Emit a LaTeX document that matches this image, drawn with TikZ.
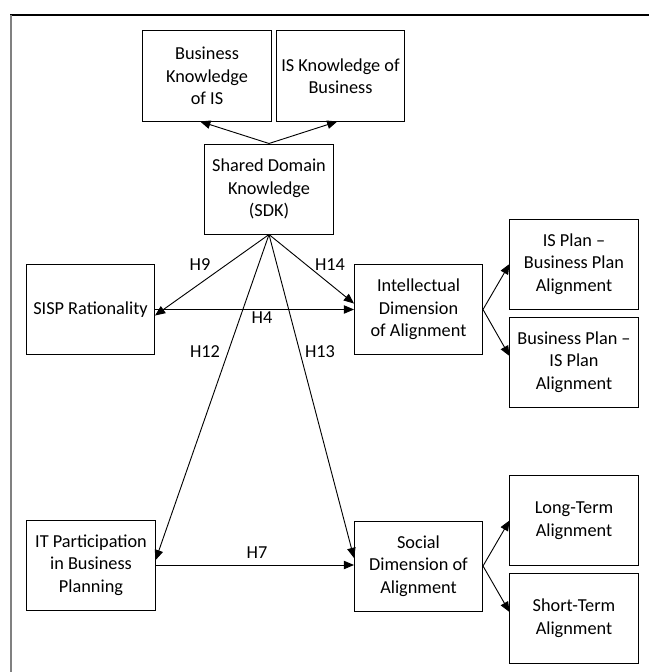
\documentclass[tikz,border=0pt]{standalone}
\usepackage{fontspec}
\setmainfont{Carlito}
\usetikzlibrary{arrows}

\tikzset{
  concept/.style={draw, line width=0.7pt, minimum width=3.2cm, minimum height=2.25cm,
    align=center, inner sep=1pt, font=\fontsize{13}{16}\selectfont},
  hyp/.style={inner sep=0pt, font=\fontsize{13}{16}\selectfont},
  link/.style={-triangle 45, line width=0.65pt},
}

\begin{document}
\begin{tikzpicture}[x=0.025cm, y=-0.025cm]
          \useasboundingbox (0,0) rectangle (649,672);
          % frame
          \draw [line width=1pt] (10,15) -- (649,15);
          \draw [gray, line width=1.2pt] (11,15) -- (11,672);
          % knowledge
          \node[concept] (bkis) at (207,76) {Business\\Knowledge\\of IS};
          \node[concept] (iskb) at (340.5,76) {IS Knowledge of\\Business};
          \node[concept] (sdk) at (269,189) {Shared Domain\\Knowledge\\(SDK)};
          % antecedents
          \node[concept] (sisp) at (90.5,309.5) {SISP Rationality};
          \node[concept] (itpart) at (91,565) {IT Participation\\in Business\\Planning};
          % alignment dimensions
          \node[concept] (intel) at (418.5,309.5) {Intellectual\\Dimension\\of Alignment};
          \node[concept] (social) at (418.5,566) {Social\\Dimension of\\Alignment};
          % outcomes
          \node[concept] (isplan) at (574,264) {IS Plan --\\Business Plan\\Alignment};
          \node[concept] (bizplan) at (574,362) {Business Plan --\\IS Plan\\Alignment};
          \node[concept] (longterm) at (574,520.5) {Long-Term\\Alignment};
          \node[concept] (shortterm) at (574,618) {Short-Term\\Alignment};
          % SDK to its parts
          \draw [link] (sdk.north) -- ([xshift=-0.17cm]bkis.south);
          \draw [link] (sdk.north) -- ([xshift=-0.08cm]iskb.south);
          % hypotheses
          \draw [link] (sdk.south) -- ([yshift=-0.15cm]sisp.east);
          \draw [link] (sdk.south) -- ([yshift=0.15cm]intel.west);
          \draw [link] (sisp.east) -- (intel.west);
          \draw [link] (sdk.south) -- ([yshift=0.12cm]itpart.east);
          \draw [link] (sdk.south) -- ([yshift=0.2cm]social.west);
          \draw [link] (itpart.east) -- (itpart.east -| social.west);
          % dimensions to outcomes
          \draw [link] (intel.east) -- (isplan.west);
          \draw [link] (intel.east) -- ([yshift=0.15cm]bizplan.west);
          \draw [link] (social.east) -- (longterm.west);
          \draw [link] (social.east) -- ([yshift=0.15cm]shortterm.west);
          % labels
          \node[hyp] (h9) at (200,265) {H9};
          \node[hyp] (h14) at (330,265) {H14};
          \node[hyp] (h4) at (262,318) {H4};
          \node[hyp] (h12) at (205,352) {H12};
          \node[hyp] (h13) at (320,352) {H13};
          \node[hyp] (h7) at (257,553) {H7};
        \end{tikzpicture}
\end{document}
